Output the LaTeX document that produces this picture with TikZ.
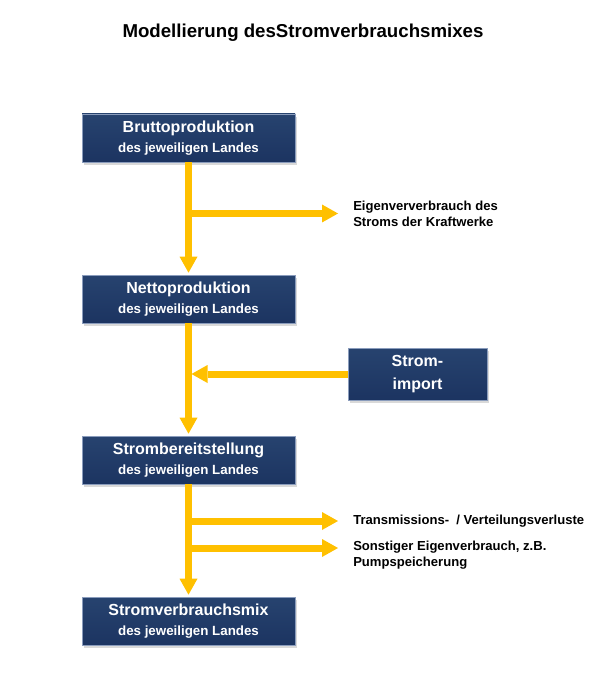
\documentclass[tikz,border=0pt]{standalone}
\usepackage{fontspec}
\setmainfont{Liberation Sans}
\usepackage{tikz}
\usetikzlibrary{arrows.meta,shadows}
\definecolor{navy}{HTML}{1C3461}
\definecolor{navytop}{HTML}{27436F}
\definecolor{navyedge}{HTML}{8A9CBC}
\definecolor{flowyellow}{HTML}{FFC000}

\begin{document}
\begin{tikzpicture}[x=0.75pt, y=-0.75pt, node distance={120.75pt},
    stage/.style = {draw=navyedge, line width=0.5pt, top color=navytop, bottom color=navy,
        text=white, minimum width=159.75pt, minimum height=36pt, inner sep=0pt, align=center,
        font=\bfseries\fontsize{10}{15}\selectfont,
        drop shadow={shadow xshift=1.5pt, shadow yshift=-2pt, opacity=0.3}},
    source/.style = {stage, minimum width=104.25pt, minimum height=39pt,
        font=\bfseries\fontsize{12}{17}\selectfont},
    note/.style = {anchor=west, inner sep=0pt, align=left, font=\bfseries\fontsize{9.8}{12}\selectfont},
    flow/.style = {draw=flowyellow, line width=5.25pt,
        -{Triangle[width=13.5pt, length=12pt, line width=0pt, fill=flowyellow]}}]
            \useasboundingbox (0,0) rectangle (613,673);

            \node[font=\bfseries\fontsize{14}{16}\selectfont] (title) at (303,33) {Modellierung desStromverbrauchsmixes};

            \node[stage] (brutto) at (188.5,138) {{\fontsize{12}{14}\selectfont Bruttoproduktion}\\des jeweiligen Landes};
            \node[stage] (netto) [below of=brutto] {{\fontsize{12}{14}\selectfont Nettoproduktion}\\des jeweiligen Landes};
            \node[stage] (bereit) [below of=netto] {{\fontsize{12}{14}\selectfont Strombereitstellung}\\des jeweiligen Landes};
            \node[stage] (mix) [below of=bereit] {{\fontsize{12}{14}\selectfont Stromverbrauchsmix}\\des jeweiligen Landes};

            \node[source] (import) at (417.5,374) {Strom-\\import};

            \node[note] (eigen) at (353,213.5) {Eigenververbrauch des\\Stroms der Kraftwerke};
            \node[note] (verluste) at (353,521) {Transmissions-\ \ / Verteilungsverluste};
            \node[note] (sonstig) at (353,555) {Sonstiger Eigenverbrauch, z.B.\\Pumpspeicherung};

            \coordinate (j1) at (brutto |- eigen.west);
            \coordinate (j2) at (netto |- import.west);
            \coordinate (j3) at (bereit |- verluste.west);
            \coordinate (j4) at (188.5,548);
            \coordinate (t4) at (353,548);

            \draw[flow, shorten >=1.5pt] (brutto) -- (netto);
            \draw[flow, shorten >=1.5pt] (netto) -- (bereit);
            \draw[flow, shorten >=1.5pt] (bereit) -- (mix);

            \draw[flow, shorten >=11.25pt] (j1) -- (eigen.west);
            \draw[flow, shorten >=2.25pt] (import) -- (j2);
            \draw[flow, shorten >=11.25pt] (j3) -- (verluste.west);
            \draw[flow, shorten >=11.25pt] (j4) -- (t4);
        \end{tikzpicture}
\end{document}
